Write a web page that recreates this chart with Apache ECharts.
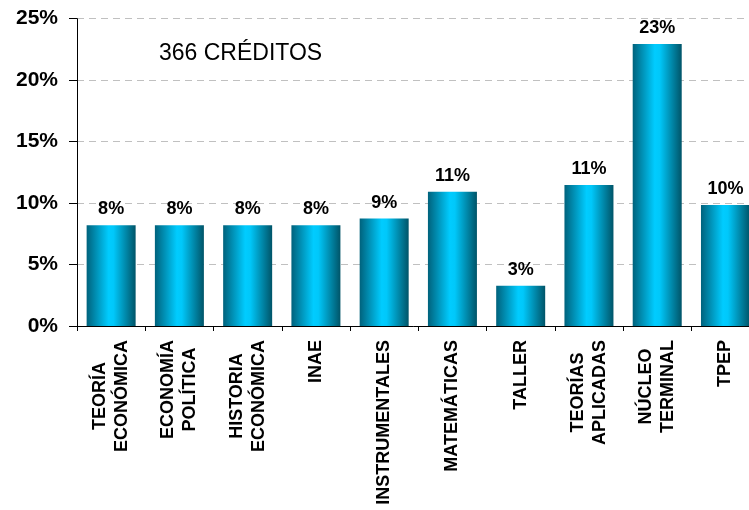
<!DOCTYPE html>
<html>
<head>
<meta charset="utf-8">
<script src="https://cdn.jsdelivr.net/npm/echarts@6/dist/echarts.min.js"></script>
<style>
html,body{margin:0;padding:0;background:#fff;}
#chart{width:749px;height:510px;}
</style>
</head>
<body>
<div id="chart"></div>
<script>
const categories = [
  'TEORÍA\nECONÓMICA', 'ECONOMÍA\nPOLÍTICA', 'HISTORIA\nECONÓMICA', 'INAE',
  'INSTRUMENTALES', 'MATEMÁTICAS', 'TALLER', 'TEORÍAS\nAPLICADAS',
  'NÚCLEO\nTERMINAL', 'TPEP'
];
const percentValues = [8.20, 8.20, 8.20, 8.20, 8.74, 10.93, 3.28, 11.48, 22.95, 9.84];
const yTicks = [0, 5, 10, 15, 20, 25];
const noteText = '366 CRÉDITOS';

const FONT = '"Liberation Sans", Arial, sans-serif';
const chart = echarts.init(document.getElementById('chart'), null, {renderer: 'canvas'});

chart.setOption({
  backgroundColor: '#ffffff',
  animation: false,
  grid: {left: 77, width: 682.6, top: 18.7, height: 307.3, containLabel: false, outerBoundsMode: 'none'},
  graphic: [{
    type: 'text',
    left: 159,
    top: 42,
    style: {text: noteText, font: '23px ' + FONT, fill: '#000'}
  }],
  xAxis: {
    type: 'category',
    data: categories,
    axisLine: {show: true, lineStyle: {color: '#000', width: 1}},
    axisTick: {show: true, length: 5, alignWithLabel: false, lineStyle: {color: '#000'}},
    axisLabel: {
      interval: 0,
      rotate: 90,
      margin: 14,
      fontFamily: FONT,
      fontWeight: 'bold',
      fontSize: 18,
      lineHeight: 22,
      color: '#000',
      formatter: function (v) {
        return v.split('\n').map(function (s) { return '{c|' + s + '}'; }).join('\n');
      },
      rich: {
        c: {align: 'center', fontFamily: FONT, fontWeight: 'bold', fontSize: 18, lineHeight: 22, color: '#000'}
      }
    }
  },
  yAxis: {
    type: 'value',
    min: yTicks[0],
    max: yTicks[yTicks.length - 1],
    interval: yTicks[1] - yTicks[0],
    axisLine: {show: true, lineStyle: {color: '#000', width: 1}},
    axisTick: {show: true, inside: false, length: 8, lineStyle: {color: '#000'}},
    axisLabel: {
      margin: 19,
      fontFamily: FONT,
      fontWeight: 'bold',
      fontSize: 21,
      color: '#000',
      formatter: '{value}%'
    },
    splitLine: {show: true, lineStyle: {color: '#c0c0c0', type: [7, 5], width: 1}}
  },
  series: [{
    type: 'bar',
    data: percentValues,
    barWidth: 49,
    itemStyle: {
      color: new echarts.graphic.LinearGradient(0, 0, 1, 0, [
        {offset: 0, color: '#00627c'},
        {offset: 0.45, color: '#00ccff'},
        {offset: 0.55, color: '#00c8fa'},
        {offset: 1, color: '#005468'}
      ])
    },
    label: {
      show: true,
      position: 'top',
      distance: 7,
      fontFamily: FONT,
      fontWeight: 'bold',
      fontSize: 18,
      color: '#000',
      formatter: function (p) { return Math.round(p.value) + '%'; }
    }
  }]
});
</script>
</body>
</html>
